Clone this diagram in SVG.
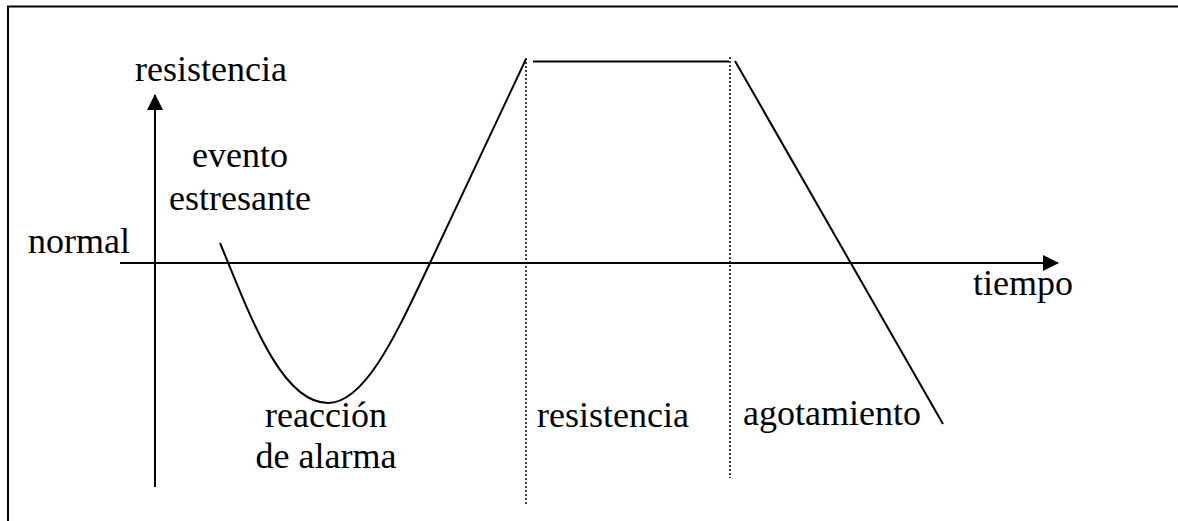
<svg xmlns="http://www.w3.org/2000/svg" width="1178" height="521" viewBox="0 0 1178 521">
<defs>
<style>
.t{font-family:'Liberation Serif',serif;font-size:36px;fill:#000}
.s{stroke:#000;fill:none;stroke-width:2}
.d{stroke:#000;fill:none;stroke-width:1.5;stroke-dasharray:2 2}
</style>
<marker id="ah" markerWidth="16" markerHeight="16" refX="15" refY="8" orient="auto" markerUnits="userSpaceOnUse"><path d="M0,0 L16,8 L0,16 Z" fill="#000"/></marker>
</defs>
<rect width="1178" height="521" fill="#fff"/>
<g id="frame">
<line class="s" x1="7" y1="6.5" x2="1178" y2="6.5"/>
<line class="s" x1="8" y1="6" x2="8" y2="521"/>
</g>
<g id="connectors">
<line class="s" x1="155" y1="487" x2="155" y2="95" marker-end="url(#ah)"/>
<line class="s" x1="120" y1="263" x2="1058" y2="263" marker-end="url(#ah)"/>
<line class="d" x1="526" y1="58" x2="526" y2="505"/>
<line class="d" x1="730" y1="57" x2="730" y2="478"/>
<path class="s" d="M220,243 C248,310 280,403 328,403 C366,403 398,330 430,263 L526,59"/>
<line class="s" x1="533" y1="61.5" x2="729" y2="61.5"/>
<line class="s" x1="735" y1="61" x2="943" y2="424"/>
</g>
<g id="labels" font-family="Liberation Serif, serif">
<text class="t" x="135" y="81">resistencia</text>
<text class="t" x="240" y="167" text-anchor="middle">evento</text>
<text class="t" x="240" y="210" text-anchor="middle">estresante</text>
<text class="t" x="28" y="253">normal</text>
<text class="t" x="973" y="295">tiempo</text>
<text class="t" x="326" y="427" text-anchor="middle">reacción</text>
<text class="t" x="326" y="468" text-anchor="middle">de alarma</text>
<text class="t" x="537" y="427">resistencia</text>
<text class="t" x="743" y="425">agotamiento</text>
</g>
</svg>
